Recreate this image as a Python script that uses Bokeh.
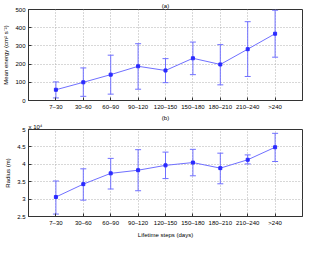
from bokeh.plotting import figure
from bokeh.models import ColumnDataSource, Whisker, TeeHead, FixedTicker, Title, Range1d
from bokeh.layouts import column
from bokeh.embed import file_html
from bokeh.resources import INLINE
import numpy as np

categories = ["7–30", "30–60", "60–90", "90–120", "120–150", "150–180", "180–210", "210–240", ">240"]

energy_mean = [59, 100, 142, 188, 165, 232, 198, 282, 367]
energy_upper = [102, 179, 249, 312, 230, 321, 307, 433, 496]
energy_lower = [14, 23, 35, 62, 98, 142, 86, 132, 238]

radius_mean = [30600, 34300, 37400, 38300, 39700, 40500, 38900, 41300, 44900]
radius_upper = [35200, 38700, 41700, 44200, 43500, 44300, 43200, 42700, 48900]
radius_lower = [25700, 29700, 32900, 32400, 35900, 36700, 34400, 40100, 40800]

energy_ticks = [0, 100, 200, 300, 400, 500]
radius_ticks = [25000, 30000, 35000, 40000, 45000, 50000]
radius_tick_labels = ["2.5", "3", "3.5", "4", "4.5", "5"]

FONT = "Liberation Sans"
FS = "6px"
LINE = "#7070ff"
MARK = "#2a2aff"
x = list(range(1, len(categories) + 1))
cat_overrides = {i: c for i, c in zip(x, categories)}


def style(p, ylabel, xlabel=None):
    p.title.align = "center"
    p.title.text_font = FONT
    p.title.text_font_size = FS
    p.title.text_font_style = "normal"
    p.title.text_color = "black"
    p.title.standoff = 1
    p.outline_line_color = "#333333"
    for ax in (p.xaxis[0], p.yaxis[0]):
        ax.major_tick_in = 3
        ax.major_tick_out = 0
        ax.minor_tick_line_color = None
        ax.axis_line_color = "#333333"
        ax.major_tick_line_color = "#333333"
        ax.major_label_text_font = FONT
        ax.major_label_text_font_size = FS
        ax.major_label_text_color = "black"
        ax.major_label_standoff = 3
        ax.axis_label_text_font = FONT
        ax.axis_label_text_font_size = FS
        ax.axis_label_text_font_style = "normal"
        ax.axis_label_text_color = "black"
        ax.axis_label_standoff = 3
    p.xaxis.ticker = FixedTicker(ticks=x)
    p.xaxis.major_label_overrides = cat_overrides
    p.yaxis.axis_label = ylabel
    if xlabel:
        p.xaxis.axis_label = xlabel
    p.xgrid.ticker = FixedTicker(ticks=x)
    for g in (p.xgrid[0], p.ygrid[0]):
        g.grid_line_color = "#b0b0b0"
        g.grid_line_dash = "1 2"
        g.grid_line_width = 1


def draw(p, mean, upper, lower):
    src = ColumnDataSource(dict(x=x, m=mean, u=upper, l=lower))
    w = Whisker(source=src, base="x", upper="u", lower="l", dimension="height",
                line_color=LINE, line_width=1,
                upper_head=TeeHead(size=6, line_color=LINE, line_width=1),
                lower_head=TeeHead(size=6, line_color=LINE, line_width=1))
    p.add_layout(w)
    p.line("x", "m", source=src, line_color=LINE, line_width=1)
    p.scatter("x", "m", source=src, marker="square", size=3, color=MARK)


p1 = figure(width=304, height=112, title="(a)", output_backend="svg", toolbar_location=None,
            x_range=Range1d(0, len(categories) + 1), y_range=Range1d(0, 500),
            min_border_left=23, min_border_right=2, min_border_top=0, min_border_bottom=0)
style(p1, "Mean energy (cm² s⁻²)")
p1.yaxis.ticker = FixedTicker(ticks=energy_ticks)
draw(p1, energy_mean, energy_upper, energy_lower)

p2 = figure(width=304, height=128, title="(b)", output_backend="svg", toolbar_location=None,
            x_range=Range1d(0, len(categories) + 1), y_range=Range1d(25000, 50000),
            min_border_left=23, min_border_right=2, min_border_top=0, min_border_bottom=0)
style(p2, "Radius (m)", "Lifetime steps (days)")
p2.yaxis.ticker = FixedTicker(ticks=radius_ticks)
p2.yaxis.major_label_overrides = dict(zip(radius_ticks, radius_tick_labels))
draw(p2, radius_mean, radius_upper, radius_lower)
p2.add_layout(Title(text="x 10⁴", align="left", text_font=FONT, text_font_size=FS,
                    text_font_style="normal", text_color="black", standoff=0), "above")

layout = column(p1, p2, spacing=0)
open("out.html", "w").write(file_html(layout, INLINE))
